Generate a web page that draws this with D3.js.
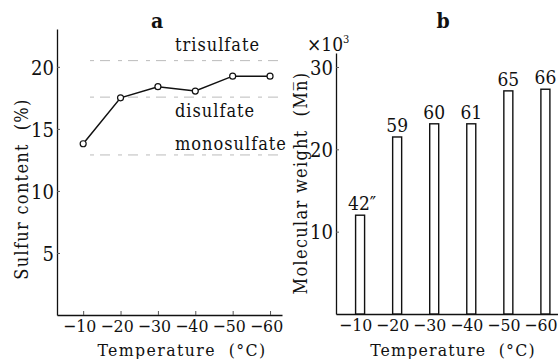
<!DOCTYPE html>
<html><head><meta charset="utf-8">
<script src="https://cdn.jsdelivr.net/npm/d3@7"></script>
<style>
body{margin:0;background:#fff;}
svg text{font-family:'DejaVu Serif Condensed','DejaVu Serif',serif;font-stretch:condensed;fill:#111;}
</style></head>
<body><svg id="c" width="558" height="359"></svg>
<script>
// ---- data ----
const temps = [-10, -20, -30, -40, -50, -60];
const sulfur = [13.8, 17.5, 18.4, 18.05, 19.25, 19.25];
const refNames = ["trisulfate", "disulfate", "monosulfate"];
const refLevels = [20.5, 17.56, 12.9];
const sulfurTicks = [5, 10, 15, 20];
const mw = [12.0, 21.5, 23.1, 23.1, 27.1, 27.3];
const mwLabels = ["42\u2033", "59", "60", "61", "65", "66"];
const mwTicks = [10, 20, 30];
const tempTicks = temps;

const svg = d3.select("#c");
const fmtT = d => "\u2212" + Math.abs(d);

// ---- panel a ----
const xa = d3.scaleLinear().domain([-3, -63.2]).range([57, 282]);
const ya = d3.scaleLinear().domain([0, 23.05]).range([315, 29]);

const ga = svg.append("g");
const axA = ga.append("g").attr("transform", "translate(57,0)")
  .call(d3.axisLeft(ya).tickValues(sulfurTicks).tickSizeInner(-3).tickSizeOuter(0).tickPadding(3));
const axAx = ga.append("g").attr("transform", "translate(0,315)")
  .call(d3.axisBottom(xa).tickValues(tempTicks).tickFormat(fmtT).tickSizeInner(-4).tickSizeOuter(0).tickPadding(5));
[axA, axAx].forEach(a => {
  a.select(".domain").attr("stroke", "#111").attr("stroke-width", 1.3);
  a.selectAll(".tick line").attr("stroke", "#555").attr("stroke-width", 1);
  a.selectAll("text").attr("font-size", 17.5).attr("font-family", null).attr("fill", "#111");
});
axA.selectAll("text").attr("font-size", 20).attr("dy", "0.36em");
axAx.selectAll("text").attr("dx", -4);

// reference levels
ga.selectAll(".ref").data(refLevels).join("line")
  .attr("x1", 90).attr("x2", 280)
  .attr("y1", d => ya(d)).attr("y2", d => ya(d))
  .attr("stroke", "#bbb").attr("stroke-width", 1).attr("stroke-dasharray", "4,6,10,8");
const refOff = [-10, 20, -5];
ga.selectAll(".reflab").data(refNames).join("text")
  .attr("x", 175).attr("y", (d, i) => ya(refLevels[i]) + refOff[i])
  .attr("font-size", 18).attr("letter-spacing", 1).text(d => d);

const line = d3.line().x((d, i) => xa(temps[i])).y(d => ya(d));
ga.append("path").datum(sulfur).attr("d", line)
  .attr("fill", "none").attr("stroke", "#111").attr("stroke-width", 1.5);
ga.selectAll(".pt").data(sulfur).join("circle")
  .attr("cx", (d, i) => xa(temps[i])).attr("cy", d => ya(d)).attr("r", 3)
  .attr("fill", "#fff").attr("stroke", "#111").attr("stroke-width", 1.2);

ga.append("text").attr("x", 157).attr("y", 28).attr("text-anchor", "middle")
  .attr("font-size", 21).attr("font-weight", "bold").text("a");
ga.append("text").attr("x", 182).attr("y", 356).attr("text-anchor", "middle")
  .attr("font-size", 17.5).attr("letter-spacing", 1.4).text("Temperature \u00A0(\u00B0C)");
ga.append("text").attr("transform", "translate(28,189) rotate(-90)").attr("text-anchor", "middle")
  .attr("font-size", 18).attr("letter-spacing", 1.3).text("Sulfur content \u00A0(%)");

// ---- panel b ----
const xb = d3.scaleLinear().domain([-3.5, -63.4]).range([336, 558]);
const yb = d3.scaleLinear().domain([0, 31.7]).range([314, 53]);
const gb = svg.append("g");
const axB = gb.append("g").attr("transform", "translate(336,0)")
  .call(d3.axisLeft(yb).tickValues(mwTicks).tickSizeInner(-3).tickSizeOuter(0).tickPadding(3));
const axBx = gb.append("g").attr("transform", "translate(0,314)")
  .call(d3.axisBottom(xb).tickValues(tempTicks).tickFormat(fmtT).tickSize(0).tickPadding(5));
[axB, axBx].forEach(a => {
  a.select(".domain").attr("stroke", "#111").attr("stroke-width", 1.3);
  a.selectAll(".tick line").attr("stroke", "#555").attr("stroke-width", 1);
  a.selectAll("text").attr("font-size", 17.5).attr("font-family", null).attr("fill", "#111");
});
axB.selectAll("text").attr("font-size", 20).attr("dy", "0.36em");
axBx.selectAll("text").attr("dx", -5);

const bw = 9;
gb.selectAll(".bar").data(mw).join("rect")
  .attr("x", (d, i) => xb(temps[i]) - bw / 2).attr("width", bw)
  .attr("y", d => yb(d)).attr("height", d => yb(0) - yb(d))
  .attr("fill", "#fff").attr("stroke", "#111").attr("stroke-width", 1.4);
gb.selectAll(".bl").data(mwLabels).join("text")
  .attr("x", (d, i) => xb(temps[i]) + (i === 0 ? 2 : 0)).attr("y", (d, i) => yb(mw[i]) - 5)
  .attr("text-anchor", "middle").attr("font-size", 19).text(d => d);

gb.append("text").attr("x", 443).attr("y", 28).attr("text-anchor", "middle")
  .attr("font-size", 21).attr("font-weight", "bold").text("b");
gb.append("text").attr("x", 307).attr("y", 51).attr("font-size", 19)
  .html("\u00D710<tspan dy='-8' font-size='11'>3</tspan>");
gb.append("text").attr("x", 453).attr("y", 356).attr("text-anchor", "middle")
  .attr("font-size", 17.5).attr("letter-spacing", 1.2).text("Temperature \u00A0(\u00B0C)");
gb.append("text").attr("transform", "translate(307,183) rotate(-90)").attr("text-anchor", "middle")
  .attr("font-size", 18).attr("letter-spacing", 1.3).text("Molecular weight \u00A0(Mn\u0305)");
</script></body></html>
